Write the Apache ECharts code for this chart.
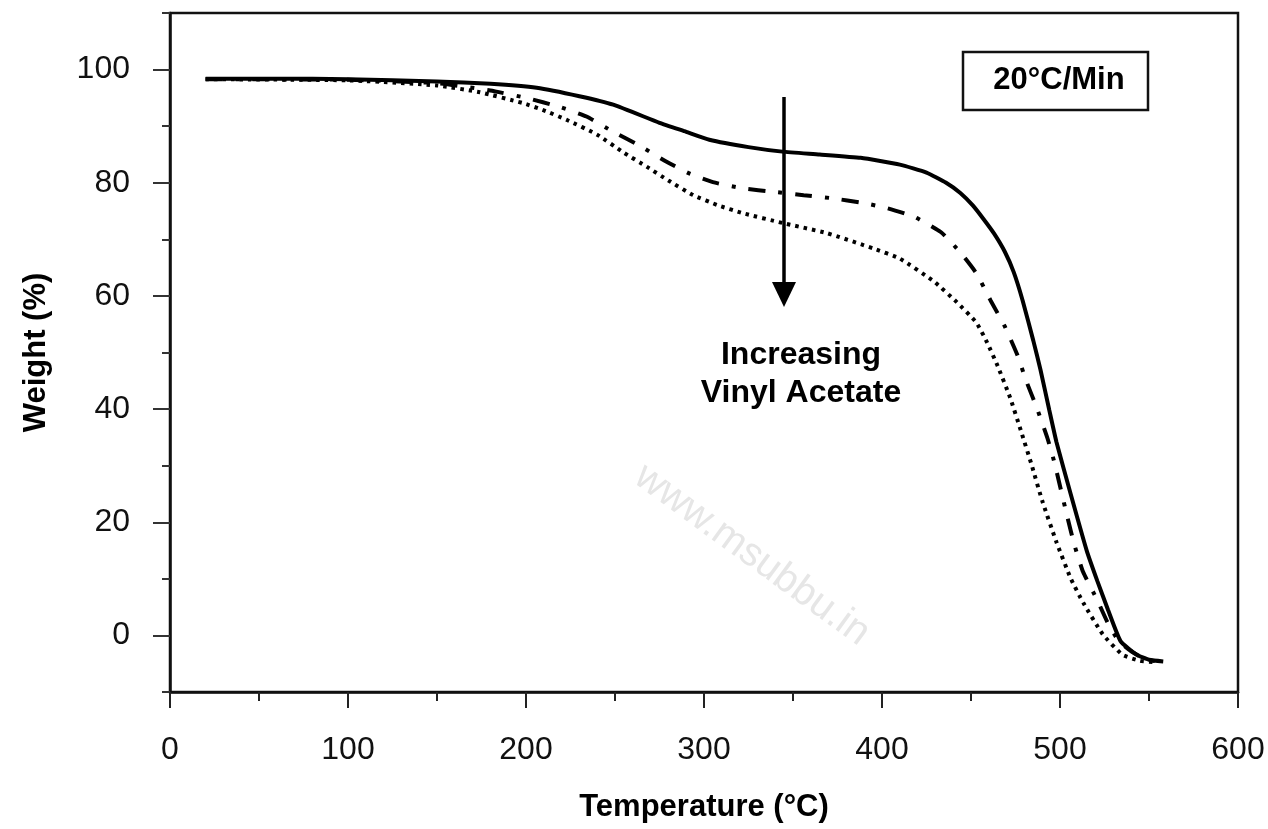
<!DOCTYPE html>
<html>
<head>
<meta charset="utf-8">
<title>TGA - Weight vs Temperature</title>
<script src="https://cdn.jsdelivr.net/npm/echarts@6/dist/echarts.min.js"></script>
<style>
  html, body { margin: 0; padding: 0; background: #fff; }
  #chart { width: 1268px; height: 829px; }
</style>
</head>
<body>
<div id="chart"></div>
<script>
// [temperature (°C), weight (%)]
var solidCurve = [
  [20, 98.4], [60, 98.4], [100, 98.3], [150, 97.9], [180, 97.5], [206, 96.8],
  [230, 95.3], [249, 93.8], [275, 90.6], [290, 89.0], [303, 87.6], [325, 86.3],
  [344, 85.5], [365, 85.0], [388, 84.4], [410, 83.2], [425, 81.8], [436, 80.0],
  [444, 78.2], [451, 76.0], [457, 73.6], [463, 71.0], [469, 67.8], [474, 64.2],
  [479, 59.2], [485, 52.1], [489, 47.0], [494, 39.8], [498, 34.2], [506, 25.0],
  [515, 15.0], [521, 9.6], [527, 4.5], [534, -1.0], [543, -3.4], [550, -4.3],
  [558, -4.6]
];
var dashDotCurve = [
  [20, 98.3], [100, 98.2], [150, 97.6], [180, 96.3], [200, 95.0], [219, 93.4],
  [234, 91.7], [249, 89.0], [263, 86.7], [279, 83.7], [292, 81.6], [305, 80.1],
  [322, 79.0], [339, 78.4], [356, 77.8], [371, 77.3], [390, 76.4], [403, 75.5],
  [418, 74.0], [433, 71.3], [444, 67.7], [453, 64.0], [461, 59.2], [469, 54.6],
  [476, 49.6], [481, 45.0], [487, 40.2], [493, 34.8], [497, 30.4], [500, 26.4],
  [504, 21.1], [508, 16.1], [513, 11.2], [521, 6.2], [527, 2.1], [533, -1.0],
  [540, -2.8], [548, -4.2], [555, -4.6]
];
var dottedCurve = [
  [20, 98.3], [100, 98.1], [150, 97.2], [174, 96.0], [198, 94.1], [210, 92.8],
  [223, 91.1], [240, 88.5], [255, 85.3], [268, 82.8], [280, 80.4], [294, 77.8],
  [308, 76.0], [322, 74.6], [344, 72.9], [369, 71.1], [395, 68.4], [410, 66.6],
  [429, 62.6], [442, 58.9], [453, 55.3], [459, 51.8], [465, 47.6], [472, 42.0],
  [478, 36.2], [484, 30.2], [490, 23.8], [498, 16.5], [506, 10.1], [513, 5.8],
  [524, 0.2], [535, -3.4], [545, -4.5], [552, -4.7]
];
var yMajorTicks = [0, 20, 40, 60, 80, 100];
var rateLabel = '20°C/Min';
var arrowLabel = 'Increasing\nVinyl Acetate';
var watermark = 'www.msubbu.in';

var myChart = echarts.init(document.getElementById('chart'));
var font = '"Liberation Sans", Arial, Helvetica, sans-serif';

function curve(name, data, type) {
  return {
    name: name,
    type: 'line',
    data: data,
    symbol: 'none',
    smooth: 0.15,
    yAxisIndex: 0,
    lineStyle: { color: '#000', width: 4, type: type, cap: 'butt' }
  };
}

var option = {
  animation: false,
  backgroundColor: '#fff',
  grid: {
    left: 170, right: 30, top: 13, bottom: 137,
    show: true, borderColor: '#111', borderWidth: 2.5
  },
  xAxis: {
    type: 'value',
    min: 0, max: 600, interval: 100,
    name: 'Temperature (°C)',
    nameLocation: 'middle',
    nameGap: 100,
    nameTextStyle: { fontFamily: font, fontWeight: 'bold', fontSize: 31, color: '#000' },
    axisLine: { onZero: false, lineStyle: { color: '#111', width: 2.5 } },
    axisTick: { length: 16, lineStyle: { color: '#222', width: 2 } },
    minorTick: { show: true, splitNumber: 2, length: 9, lineStyle: { color: '#222', width: 2 } },
    splitLine: { show: false },
    axisLabel: { margin: 42, fontFamily: font, fontSize: 32, color: '#111' }
  },
  yAxis: [{
    type: 'value',
    min: -10, max: 110, interval: 10,
    name: 'Weight (%)',
    nameLocation: 'middle',
    nameGap: 118,
    nameTextStyle: { fontFamily: font, fontWeight: 'bold', fontSize: 31, color: '#000' },
    axisLine: { lineStyle: { color: '#111', width: 2.5 } },
    axisTick: { length: 8, lineStyle: { color: '#333', width: 2 } },
    splitLine: { show: false },
    axisLabel: {
      margin: 40, fontFamily: font, fontSize: 32, color: '#111',
      formatter: function (v) {
        return yMajorTicks.indexOf(v) >= 0 ? String(v) : '';
      }
    }
  }, {
    type: 'value',
    position: 'left',
    min: -10, max: 110,
    axisLine: { show: false },
    axisTick: { length: 17, customValues: yMajorTicks, lineStyle: { color: '#333', width: 2 } },
    axisLabel: { show: false },
    splitLine: { show: false }
  }],
  graphic: [
    {
      type: 'text',
      x: 752, y: 555,
      rotation: -0.63,
      z: -1,
      style: {
        text: watermark, x: 0, y: 0, align: 'center', verticalAlign: 'middle',
        font: '40px ' + font, fill: '#e6e6e6'
      }
    },
    {
      type: 'rect',
      shape: { x: 963, y: 52, width: 185, height: 58 },
      style: { fill: '#fff', stroke: '#111', lineWidth: 2.5 }
    },
    {
      type: 'text',
      style: {
        text: rateLabel, x: 1059, y: 80, align: 'center', verticalAlign: 'middle',
        font: 'bold 31px ' + font, fill: '#000'
      }
    },
    {
      type: 'line',
      shape: { x1: 784, y1: 97, x2: 784, y2: 285 },
      style: { stroke: '#000', lineWidth: 3.5 }
    },
    {
      type: 'polygon',
      shape: { points: [[772, 282], [796, 282], [784, 307]] },
      style: { fill: '#000' }
    },
    {
      type: 'text',
      style: {
        text: arrowLabel, x: 801, y: 374, align: 'center', verticalAlign: 'middle',
        font: 'bold 32px ' + font, lineHeight: 38, fill: '#000'
      }
    }
  ],
  series: [
    curve('solid', solidCurve, 'solid'),
    curve('dashdot', dashDotCurve, [17, 13, 4, 13]),
    curve('dotted', dottedCurve, [3.5, 5])
  ]
};

window.addEventListener("resize", function () {
  myChart.resize();
});
myChart.setOption(option, true);
</script>
</body>
</html>
